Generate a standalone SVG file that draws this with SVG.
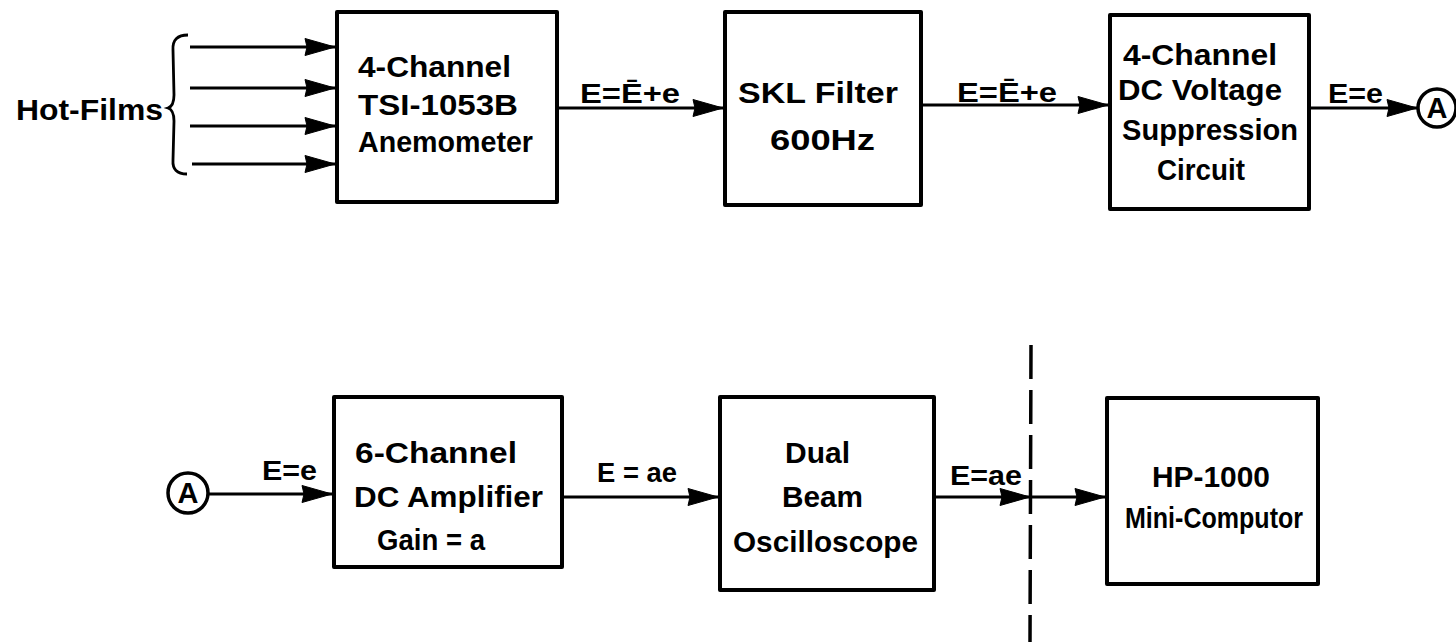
<svg xmlns="http://www.w3.org/2000/svg" width="1456" height="642" viewBox="0 0 1456 642">
<style>
.box{fill:none;stroke:#000;stroke-width:4;stroke-linejoin:round}
.ln{fill:none;stroke:#000;stroke-width:2.8}
.t{font-family:"Liberation Sans",Arial,sans-serif;font-weight:bold;font-size:29px;fill:#000}
.lb{font-family:"Liberation Sans",Arial,sans-serif;font-weight:bold;font-size:27px;fill:#000}
.dash{fill:none;stroke:#000;stroke-width:3.5;stroke-dasharray:34 11}
.circ{fill:#fff;stroke:#000;stroke-width:3.5}
</style>
<defs>
<marker id="ah" markerUnits="userSpaceOnUse" markerWidth="40" markerHeight="24" viewBox="-34 -12 40 24" refX="0" refY="0" orient="auto" overflow="visible">
<path d="M0,0 L-30,-8.5 L-28,0 L-30,8.5 Z" fill="#000" stroke="#000" stroke-width="1" stroke-linejoin="round"/>
</marker>
</defs>
<rect width="1456" height="642" fill="#fff"/>

<g id="hotfilms">
<text class="t" x="16" y="120" textLength="147" lengthAdjust="spacingAndGlyphs">Hot-Films</text>
<path class="ln" d="M188,35 Q172,35 173,50 L174,95 Q174,106 168,108 Q174,110 174,121 L173,160 Q172,174 187,174" stroke-width="3"/>
</g>

<g id="anemometer">
<rect class="box" x="337" y="12" width="220" height="190"/>
<text class="t" x="358" y="77" textLength="153" lengthAdjust="spacingAndGlyphs">4-Channel</text>
<text class="t" x="358" y="115" textLength="160" lengthAdjust="spacingAndGlyphs">TSI-1053B</text>
<text class="t" x="358" y="152" textLength="175" lengthAdjust="spacingAndGlyphs">Anemometer</text>
</g>

<g id="skl">
<rect class="box" x="725" y="12" width="196" height="193"/>
<text class="t" x="738" y="103" textLength="160" lengthAdjust="spacingAndGlyphs">SKL Filter</text>
<text class="t" x="770" y="150" textLength="105" lengthAdjust="spacingAndGlyphs">600Hz</text>
</g>

<g id="suppression">
<rect class="box" x="1110" y="15" width="199" height="194"/>
<text class="t" x="1123" y="65" textLength="154" lengthAdjust="spacingAndGlyphs">4-Channel</text>
<text class="t" x="1118" y="100" textLength="164" lengthAdjust="spacingAndGlyphs">DC Voltage</text>
<text class="t" x="1122" y="140" textLength="176" lengthAdjust="spacingAndGlyphs">Suppression</text>
<text class="t" x="1157" y="180" textLength="88" lengthAdjust="spacingAndGlyphs">Circuit</text>
</g>

<g id="connA-top">
<circle class="circ" cx="1437" cy="108" r="19"/>
<text class="t" x="1437" y="118" text-anchor="middle" font-size="27">A</text>
</g>

<g id="connA-bottom">
<circle class="circ" cx="188" cy="493" r="20"/>
<text class="t" x="188" y="503" text-anchor="middle" font-size="27">A</text>
</g>

<g id="amplifier">
<rect class="box" x="334" y="397" width="228" height="170"/>
<text class="t" x="355" y="463" textLength="162" lengthAdjust="spacingAndGlyphs">6-Channel</text>
<text class="t" x="354" y="507" textLength="189" lengthAdjust="spacingAndGlyphs">DC Amplifier</text>
<text class="t" x="377" y="550" textLength="108" lengthAdjust="spacingAndGlyphs">Gain = a</text>
</g>

<g id="oscilloscope">
<rect class="box" x="720" y="397" width="214" height="193"/>
<text class="t" x="785" y="463" textLength="65" lengthAdjust="spacingAndGlyphs">Dual</text>
<text class="t" x="782" y="507" textLength="81" lengthAdjust="spacingAndGlyphs">Beam</text>
<text class="t" x="733" y="552" textLength="185" lengthAdjust="spacingAndGlyphs">Oscilloscope</text>
</g>

<g id="computer">
<rect class="box" x="1107" y="398" width="211" height="186"/>
<text class="t" x="1152" y="487" textLength="118" lengthAdjust="spacingAndGlyphs">HP-1000</text>
<text class="t" x="1125" y="528" textLength="178" lengthAdjust="spacingAndGlyphs">Mini-Computor</text>
</g>

<g id="connectors">
<line class="ln" x1="190" y1="47" x2="335" y2="47" marker-end="url(#ah)"/>
<line class="ln" x1="190" y1="88" x2="335" y2="88" marker-end="url(#ah)"/>
<line class="ln" x1="190" y1="126" x2="335" y2="126" marker-end="url(#ah)"/>
<line class="ln" x1="192" y1="164" x2="335" y2="164" marker-end="url(#ah)"/>
<line class="ln" x1="557" y1="108" x2="723" y2="108" marker-end="url(#ah)"/>
<text class="lb" x="580" y="103" textLength="100" lengthAdjust="spacingAndGlyphs">E=Ē+e</text>
<line class="ln" x1="921" y1="105" x2="1108" y2="105" marker-end="url(#ah)"/>
<text class="lb" x="957" y="102" textLength="100" lengthAdjust="spacingAndGlyphs">E=Ē+e</text>
<line class="ln" x1="1309" y1="108" x2="1417" y2="108" marker-end="url(#ah)"/>
<text class="lb" x="1328" y="103" textLength="55" lengthAdjust="spacingAndGlyphs">E=e</text>
<line class="ln" x1="208" y1="494" x2="332" y2="494" marker-end="url(#ah)"/>
<text class="lb" x="262" y="480" textLength="55" lengthAdjust="spacingAndGlyphs">E=e</text>
<line class="ln" x1="562" y1="497" x2="718" y2="497" marker-end="url(#ah)"/>
<text class="lb" x="597" y="482" textLength="80" lengthAdjust="spacingAndGlyphs">E = ae</text>
<line class="ln" x1="934" y1="497" x2="1030" y2="497" marker-end="url(#ah)"/>
<line class="ln" x1="1030" y1="497" x2="1105" y2="497" marker-end="url(#ah)"/>
<text class="lb" x="950" y="485" textLength="72" lengthAdjust="spacingAndGlyphs">E=ae</text>
<line class="dash" x1="1031" y1="345" x2="1030" y2="642"/>
</g>
</svg>
